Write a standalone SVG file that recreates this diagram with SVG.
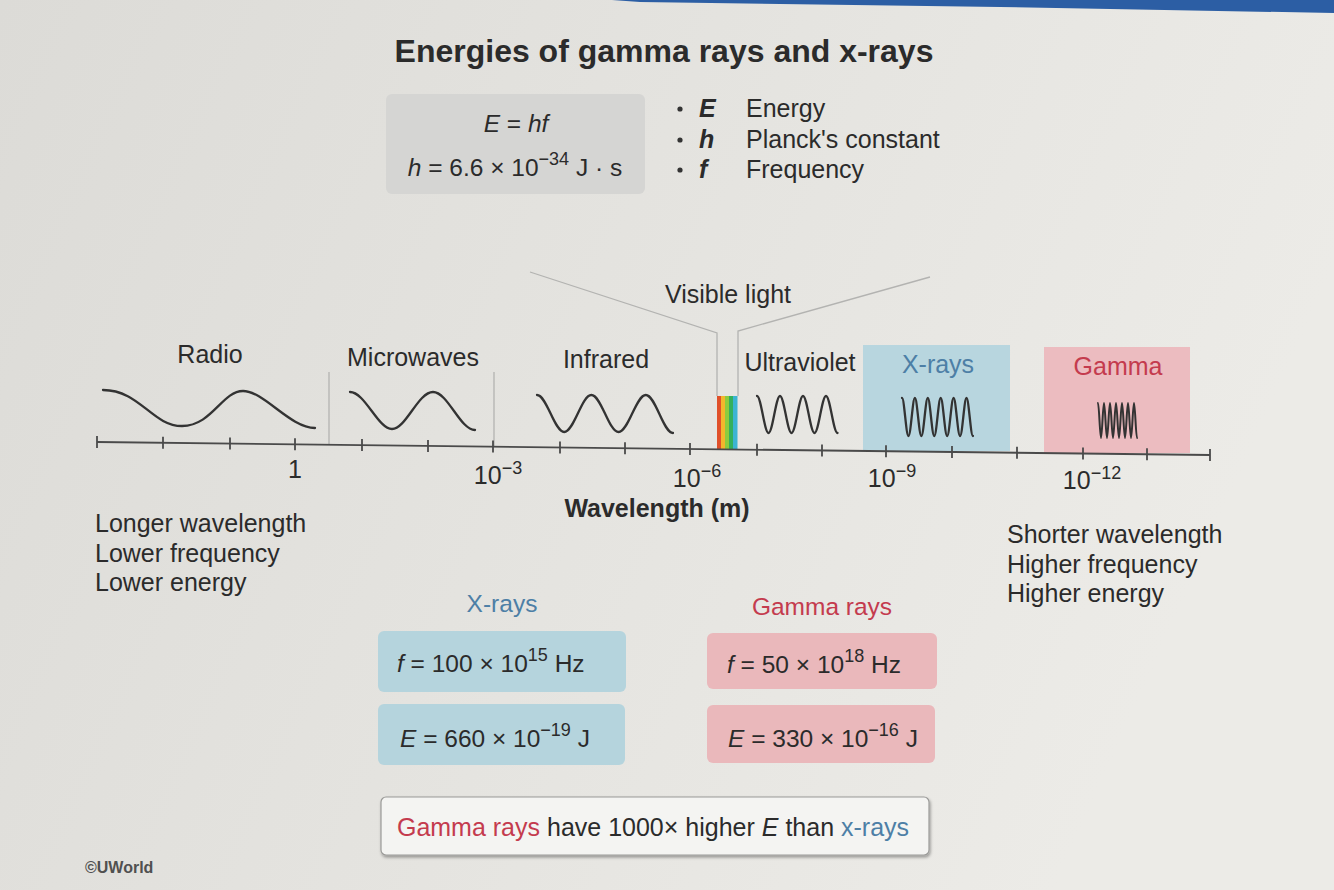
<svg xmlns="http://www.w3.org/2000/svg" width="1334" height="890" viewBox="0 0 1334 890">
<defs>
<linearGradient id="bg" x1="0" y1="0" x2="1" y2="0.3">
<stop offset="0" stop-color="#dcdbd7"/>
<stop offset="1" stop-color="#ecebe7"/>
</linearGradient>
<filter id="sh" x="-5%" y="-20%" width="110%" height="150%">
<feDropShadow dx="1" dy="2" stdDeviation="1.5" flood-color="#000" flood-opacity="0.35"/>
</filter>
</defs>
<style>
text{font-family:"Liberation Sans",Arial,sans-serif;fill:#2b2b2b;}
.lbl{font-size:25px;}
.val{font-size:24.5px;}
.ttl{font-size:32px;font-weight:bold;}
.wave{fill:none;stroke:#333;stroke-width:2.3;stroke-linecap:round;}
.div{stroke:#b3b3b1;stroke-width:1.3;fill:none;}
.tick{stroke:#4a4a4a;stroke-width:1.8;}
.blue{fill:#b5d4dd;}
.pink{fill:#eab8bb;}
.tb{fill:#4d7fa6;}
.tr{fill:#c43b4e;}
.it{font-style:italic;}
.sup{font-size:18px;}
</style>
<rect width="1334" height="890" fill="url(#bg)"/>
<polygon points="612,0 1334,0 1334,13 1000,7 640,2" fill="#2c5ea4"/>

<g id="title"><text class="ttl" x="664" y="62" text-anchor="middle">Energies of gamma rays and x-rays</text></g>

<g id="formula">
<rect x="386" y="94" width="259" height="100" rx="6" fill="#d5d5d3"/>
<text class="val" x="516" y="132" text-anchor="middle"><tspan class="it">E</tspan> = <tspan class="it">hf</tspan></text>
<text class="val" x="515" y="176" text-anchor="middle"><tspan class="it">h</tspan> = 6.6 × 10<tspan class="sup" dy="-11">−34</tspan><tspan dy="11"> J · s</tspan></text>
</g>

<g id="legend">
<circle cx="680" cy="109" r="2.6" fill="#333"/>
<circle cx="680" cy="140" r="2.6" fill="#333"/>
<circle cx="680" cy="170" r="2.6" fill="#333"/>
<text class="lbl it" x="699" y="117" font-weight="bold">E</text>
<text class="lbl it" x="699" y="148" font-weight="bold">h</text>
<text class="lbl it" x="699" y="178" font-weight="bold">f</text>
<text class="lbl" x="746" y="117">Energy</text>
<text class="lbl" x="746" y="148">Planck's constant</text>
<text class="lbl" x="746" y="178">Frequency</text>
</g>

<g id="xrays-band">
<rect x="863" y="345" width="147" height="106" fill="#b8d6df"/>
<text class="lbl tb" x="938" y="373" text-anchor="middle">X-rays</text>
<path class="wave" d="M902,398 C904.3,398 906.1,436 908.45,436 S912.6,398 914.9,398 S919,436 921.35,436 S925.5,398 927.8,398 S931.9,436 934.25,436 S938.4,398 940.7,398 S944.8,436 947.15,436 S951.3,398 953.6,398 S957.7,436 960.05,436 S964.2,398 966.5,398 S970.6,436 972.95,436"/>
</g>

<g id="gamma-band">
<rect x="1044" y="347" width="146" height="106" fill="#ecbcc0"/>
<text class="lbl tr" x="1118" y="375" text-anchor="middle">Gamma</text>
<path class="wave" style="stroke-width:2" d="M1098,403 C1099.1,403 1099.9,438 1101,438 S1102.9,403 1104,403 S1105.9,438 1107,438 S1108.9,403 1110,403 S1111.9,438 1113,438 S1114.9,403 1116,403 S1117.9,438 1119,438 S1120.9,403 1122,403 S1123.9,438 1125,438 S1126.9,403 1128,403 S1129.9,438 1131,438 S1132.9,403 1134,403 S1135.9,438 1137,438"/>
</g>

<g id="radio">
<text class="lbl" x="210" y="363" text-anchor="middle">Radio</text>
<path class="wave" d="M103,390 C140,390 152,426 182,426 S222,391 243,391 S290,428 315,428"/>
</g>

<g id="microwaves">
<text class="lbl" x="413" y="366" text-anchor="middle">Microwaves</text>
<path class="wave" d="M350,392 C365,392 378,429 392,429 S418,392 433,392 S460,430 475,430"/>
</g>

<g id="infrared">
<text class="lbl" x="606" y="368" text-anchor="middle">Infrared</text>
<path class="wave" d="M537,395 C546.8,395 554.4,432 564.2,432 S581.6,395 591.4,395 S608.8,432 618.6,432 S636,395 645.8,395 S663.2,433 673,433"/>
</g>

<g id="visible">
<text class="lbl" x="728" y="303" text-anchor="middle">Visible light</text>
<rect x="717" y="396" width="4" height="53" fill="#e0502a"/>
<rect x="721" y="396" width="4" height="53" fill="#f2b72c"/>
<rect x="725" y="396" width="4" height="53" fill="#8dcb3e"/>
<rect x="729" y="396" width="4" height="53" fill="#33b05c"/>
<rect x="733" y="396" width="4.5" height="53" fill="#3cb4d2"/>
</g>

<g id="ultraviolet">
<text class="lbl" x="800" y="371" text-anchor="middle">Ultraviolet</text>
<path class="wave" d="M757,396 C761.1,396 764.4,433 768.5,433 S775.9,396 780,396 S787.4,433 791.5,433 S798.9,396 803,396 S810.4,433 814.5,433 S821.9,396 826,396 S833.4,433 837.5,433"/>
</g>

<g id="connectors">
<line class="div" x1="329" y1="372" x2="329" y2="444"/>
<line class="div" x1="494" y1="372" x2="494" y2="446"/>
<polyline class="div" points="530,272 717,333 717,396"/>
<polyline class="div" points="930,277 738,331 738,396"/>
</g>

<g id="axis">
<line x1="97" y1="442" x2="1210" y2="455" stroke="#4a4a4a" stroke-width="1.8"/>
<g class="tick">
<line x1="97" y1="436" x2="97" y2="448"/>
<line x1="163" y1="436.8" x2="163" y2="448.8"/>
<line x1="230" y1="437.6" x2="230" y2="449.6"/>
<line x1="295" y1="438.3" x2="295" y2="450.3"/>
<line x1="362" y1="439.1" x2="362" y2="451.1"/>
<line x1="428" y1="439.9" x2="428" y2="451.9"/>
<line x1="493" y1="440.6" x2="493" y2="452.6"/>
<line x1="560" y1="441.4" x2="560" y2="453.4"/>
<line x1="625" y1="442.2" x2="625" y2="454.2"/>
<line x1="690" y1="442.9" x2="690" y2="454.9"/>
<line x1="757" y1="443.7" x2="757" y2="455.7"/>
<line x1="822" y1="444.5" x2="822" y2="456.5"/>
<line x1="886" y1="445.2" x2="886" y2="457.2"/>
<line x1="952" y1="446" x2="952" y2="458"/>
<line x1="1017" y1="446.7" x2="1017" y2="458.7"/>
<line x1="1083" y1="447.5" x2="1083" y2="459.5"/>
<line x1="1147" y1="448.3" x2="1147" y2="460.3"/>
<line x1="1210" y1="449" x2="1210" y2="461"/>
</g>
<text class="lbl" x="295" y="478" text-anchor="middle">1</text>
<text class="lbl" x="498" y="484" text-anchor="middle">10<tspan class="sup" dy="-10">−3</tspan></text>
<text class="lbl" x="697" y="487" text-anchor="middle">10<tspan class="sup" dy="-10">−6</tspan></text>
<text class="lbl" x="892" y="487" text-anchor="middle">10<tspan class="sup" dy="-10">−9</tspan></text>
<text class="lbl" x="1092" y="489" text-anchor="middle">10<tspan class="sup" dy="-10">−12</tspan></text>
<text class="lbl" x="657" y="517" text-anchor="middle" font-weight="bold">Wavelength (m)</text>
</g>

<g id="longer">
<text class="lbl" x="95" y="532">Longer wavelength</text>
<text class="lbl" x="95" y="562">Lower frequency</text>
<text class="lbl" x="95" y="591">Lower energy</text>
</g>

<g id="shorter">
<text class="lbl" x="1007" y="543">Shorter wavelength</text>
<text class="lbl" x="1007" y="573">Higher frequency</text>
<text class="lbl" x="1007" y="602">Higher energy</text>
</g>

<g id="xray-values">
<text class="val tb" x="502" y="612" text-anchor="middle">X-rays</text>
<rect class="blue" x="378" y="631" width="248" height="61" rx="6"/>
<rect class="blue" x="378" y="704" width="247" height="61" rx="6"/>
<text class="val" x="397" y="672"><tspan class="it">f</tspan> = 100 × 10<tspan class="sup" dy="-11">15</tspan><tspan dy="11"> Hz</tspan></text>
<text class="val" x="400" y="747"><tspan class="it">E</tspan> = 660 × 10<tspan class="sup" dy="-11">−19</tspan><tspan dy="11"> J</tspan></text>
</g>

<g id="gamma-values">
<text class="val tr" x="822" y="615" text-anchor="middle">Gamma rays</text>
<rect class="pink" x="707" y="633" width="230" height="56" rx="6"/>
<rect class="pink" x="707" y="705" width="228" height="58" rx="6"/>
<text class="val" x="727" y="673"><tspan class="it">f</tspan> = 50 × 10<tspan class="sup" dy="-11">18</tspan><tspan dy="11"> Hz</tspan></text>
<text class="val" x="728" y="747"><tspan class="it">E</tspan> = 330 × 10<tspan class="sup" dy="-11">−16</tspan><tspan dy="11"> J</tspan></text>
</g>

<g id="summary">
<rect x="381" y="797" width="548" height="58" rx="5" fill="#f4f4f2" stroke="#9a9a98" stroke-width="1.2" filter="url(#sh)"/>
<text class="lbl" x="653" y="836" text-anchor="middle"><tspan class="tr">Gamma rays</tspan> have 1000× higher <tspan class="it">E</tspan> than <tspan class="tb">x-rays</tspan></text>
</g>

<g id="credit"><text x="85" y="873" font-size="16" font-weight="bold" style="fill:#505050">©UWorld</text></g>
</svg>
